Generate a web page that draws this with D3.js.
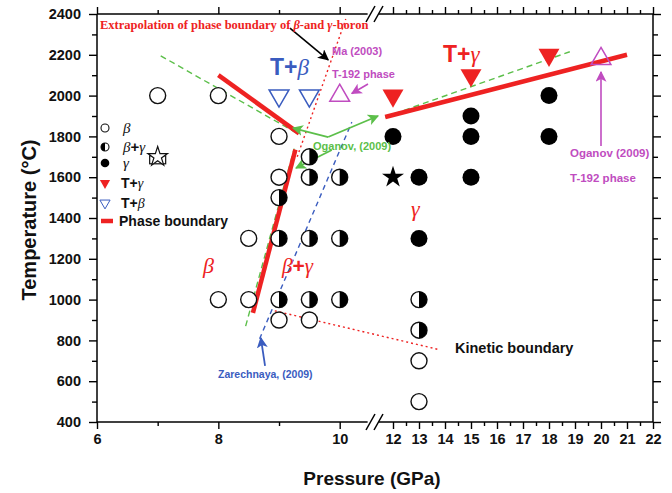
<!DOCTYPE html>
<html><head><meta charset="utf-8">
<script src="https://cdn.jsdelivr.net/npm/d3@7"></script>
<style>body{margin:0;background:#fff}svg{display:block}</style>
</head><body>
<svg id="c" width="672" height="493"></svg>
<script>
// ---------- data ----------
const xMajorLeft = [6, 8, 10];
const xMinorLeft = [7, 9];
const xMajorRight = [12, 13, 14, 15, 16, 17, 18, 19, 20, 21, 22];
const xMinorRight = [12.5, 13.5, 14.5, 15.5, 16.5, 17.5, 18.5, 19.5, 20.5, 21.5];
const yMajor = [400, 600, 800, 1000, 1200, 1400, 1600, 1800, 2000, 2200, 2400];
const yMinor = [500, 700, 900, 1100, 1300, 1500, 1700, 1900, 2100, 2300];

const betaPts = [[7,2000],[8,2000],[9,1800],[9,1600],[8.5,1300],[8,1000],[8.5,1000],[9,900],[9.5,900],[13,700],[13,500]];
const mixPts = [[9,1500],[9.5,1700],[9.5,1600],[10,1600],[9,1300],[9.5,1300],[10,1300],[9,1000],[9.5,1000],[10,1000],[13,1000],[13,850]];
const gammaPts = [[12,1800],[13,1600],[13,1300],[15,1900],[15,1800],[15,1600],[18,2000],[18,1800]];
const starPts = [[12,1600]];
const openStarPts = [[7,1700]];
const tGammaPts = [[12,2000],[15,2100],[18,2200]];
const tBetaPts = [[9,2000],[9.5,2000]];
const t192Pts = [[10,2000],[20,2180]];

const boundaryLines = [
  [[8,2100],[9.33,1815]],
  [[8.57,935],[9.27,1735]],
  [[11.7,1895],[21,2200]]
];
const oganovDashed = [
  [[7.05,2195],[9.33,1810]],
  [[8.45,870],[9.25,1740]],
  [[11.7,1895],[18.8,2215]]
];
const zarechnayaDashed = [[8.68,808],[10.2,1870]];
const extrapolationDotted = [[9.3,1700],[10.1,2375]];
const kineticDotted = [[8.93,945],[13.8,754]];

const greenArrows = [
  [[9.81,1797],[9.23,1841]],
  [[9.81,1797],[11.34,1900]],
  [[9.87,1733],[9.28,1645]]
];
const blackArrow = [[9.18,2331],[9.81,2175]];
const magentaArrows = [
  [[10.53,2057],[10.2,2010]],
  [[20,1753],[20,2116]]
];
const blueArrow = [[8.77,675],[8.70,812]];

// ---------- setup ----------
const svg = d3.select("#c");
const SANS = "'Liberation Sans', Arial, sans-serif";
const SERIF = "'Liberation Serif', 'Times New Roman', serif";
const RED = "#ee2222", GREEN = "#5cbf4a", BLUE = "#3a5cbf", MAG = "#c04cc0";

const x = d3.scaleLinear().domain([6, 10.45, 11.5, 22]).range([97, 367, 380, 653]);
const y = d3.scaleLinear().domain([400, 2400]).range([422, 14]);
const line = d3.line().x(d => x(d[0])).y(d => y(d[1]));

// markers
const defs = svg.append("defs");
function marker(id, color, size) {
  defs.append("marker").attr("id", id).attr("viewBox", "0 0 10 10")
    .attr("refX", 9).attr("refY", 5).attr("markerWidth", size).attr("markerHeight", size)
    .attr("markerUnits", "userSpaceOnUse").attr("orient", "auto")
    .append("path").attr("d", "M0,0 L10,5 L0,10 L2.5,5 Z").attr("fill", color);
}
marker("ah-black", "#000", 11);
marker("ah-green", GREEN, 11);
marker("ah-mag", MAG, 11);
marker("ah-blue", BLUE, 11);

// ---------- axes ----------
const axG = svg.append("g").attr("font-family", SANS);
function styleAxis(g) {
  g.select(".domain").remove();
  g.selectAll("line").attr("stroke", "#000").attr("stroke-width", 1.4);
  g.selectAll("text").attr("font-family", SANS).attr("font-weight", "bold").attr("font-size", 14.5).attr("fill", "#111");
}
axG.append("g").attr("transform", "translate(0,422)")
  .call(d3.axisBottom(x).tickValues(xMajorLeft.concat(xMajorRight)).tickSize(7).tickPadding(5).tickFormat(d3.format("d"))).call(styleAxis);
axG.append("g").attr("transform", "translate(0,422)")
  .call(d3.axisBottom(x).tickValues(xMinorLeft.concat(xMinorRight)).tickSize(4).tickFormat("")).call(styleAxis);
axG.append("g").attr("transform", "translate(0,14)")
  .call(d3.axisTop(x).tickValues(xMajorLeft.concat(xMajorRight)).tickSize(7).tickFormat("")).call(styleAxis);
axG.append("g").attr("transform", "translate(0,14)")
  .call(d3.axisTop(x).tickValues(xMinorLeft.concat(xMinorRight)).tickSize(4).tickFormat("")).call(styleAxis);
axG.append("g").attr("transform", "translate(97,0)")
  .call(d3.axisLeft(y).tickValues(yMajor).tickSize(8).tickPadding(8).tickFormat(d3.format("d"))).call(styleAxis);
axG.append("g").attr("transform", "translate(97,0)")
  .call(d3.axisLeft(y).tickValues(yMinor).tickSize(5).tickFormat("")).call(styleAxis);
axG.append("g").attr("transform", "translate(653,0)")
  .call(d3.axisRight(y).tickValues(yMajor).tickSize(8).tickFormat("")).call(styleAxis);
axG.append("g").attr("transform", "translate(653,0)")
  .call(d3.axisRight(y).tickValues(yMinor).tickSize(5).tickFormat("")).call(styleAxis);

// frame with breaks
const frame = svg.append("g").attr("stroke", "#000").attr("stroke-width", 1.5).attr("fill", "none");
[14, 422].forEach(yy => {
  frame.append("line").attr("x1", 97).attr("x2", x(10.5)).attr("y1", yy).attr("y2", yy);
  frame.append("line").attr("x1", x(11.4)).attr("x2", 653).attr("y1", yy).attr("y2", yy);
  frame.append("line").attr("x1", 366).attr("y1", yy + 8).attr("x2", 375).attr("y2", yy - 8);
  frame.append("line").attr("x1", 374).attr("y1", yy + 8).attr("x2", 383).attr("y2", yy - 8);
});
frame.append("line").attr("x1", 97).attr("x2", 97).attr("y1", 14).attr("y2", 422);
frame.append("line").attr("x1", 653).attr("x2", 653).attr("y1", 14).attr("y2", 422);

// axis titles
svg.append("text").attr("x", 372).attr("y", 485).attr("text-anchor", "middle")
  .attr("font-family", SANS).attr("font-weight", "bold").attr("font-size", 19).attr("fill", "#111").text("Pressure (GPa)");
svg.append("text").attr("transform", "translate(36,220) rotate(-90)").attr("text-anchor", "middle")
  .attr("font-family", SANS).attr("font-weight", "bold").attr("font-size", 20).attr("fill", "#111").text("Temperature (°C)");

// ---------- lines ----------
const lg = svg.append("g").attr("fill", "none");
oganovDashed.forEach(seg => lg.append("path").attr("d", line(seg)).attr("stroke", GREEN).attr("stroke-width", 1.4).attr("stroke-dasharray", "6,4"));
lg.append("path").attr("d", line(zarechnayaDashed)).attr("stroke", BLUE).attr("stroke-width", 1.4).attr("stroke-dasharray", "5,4");
lg.append("path").attr("d", line(extrapolationDotted)).attr("stroke", RED).attr("stroke-width", 1.4).attr("stroke-dasharray", "2,3");
lg.append("path").attr("d", line(kineticDotted)).attr("stroke", RED).attr("stroke-width", 1.4).attr("stroke-dasharray", "2,3");
boundaryLines.forEach(seg => lg.append("path").attr("d", line(seg)).attr("stroke", RED).attr("stroke-width", 4.5).attr("stroke-linecap", "butt"));
greenArrows.forEach(seg => lg.append("path").attr("d", line(seg)).attr("stroke", GREEN).attr("stroke-width", 1.8).attr("marker-end", "url(#ah-green)"));
lg.append("path").attr("d", line(blackArrow)).attr("stroke", "#000").attr("stroke-width", 1.6).attr("marker-end", "url(#ah-black)");
magentaArrows.forEach(seg => lg.append("path").attr("d", line(seg)).attr("stroke", MAG).attr("stroke-width", 1.6).attr("marker-end", "url(#ah-mag)"));
lg.append("path").attr("d", line(blueArrow)).attr("stroke", BLUE).attr("stroke-width", 1.8).attr("marker-end", "url(#ah-blue)");

// ---------- markers ----------
const R = 8;
const mk = svg.append("g");
mk.selectAll(".beta").data(betaPts).join("circle")
  .attr("cx", d => x(d[0])).attr("cy", d => y(d[1])).attr("r", R)
  .attr("fill", "#fff").attr("stroke", "#111").attr("stroke-width", 1.4);
const mixG = mk.selectAll(".mix").data(mixPts).join("g")
  .attr("transform", d => `translate(${x(d[0])},${y(d[1])})`);
mixG.append("circle").attr("r", R).attr("fill", "#fff").attr("stroke", "#111").attr("stroke-width", 1.4);
mixG.append("path").attr("d", `M0,${-R} A${R},${R} 0 0 1 0,${R} Z`).attr("fill", "#000");
mk.selectAll(".gam").data(gammaPts).join("circle")
  .attr("cx", d => x(d[0])).attr("cy", d => y(d[1])).attr("r", R + 0.5).attr("fill", "#000");
mk.selectAll(".star").data(starPts).join("path")
  .attr("transform", d => `translate(${x(d[0])},${y(d[1])})`)
  .attr("d", d3.symbol(d3.symbolStar, 150)).attr("fill", "#000");
const os = mk.selectAll(".ostar").data(openStarPts).join("g")
  .attr("transform", d => `translate(${x(d[0])},${y(d[1])})`);
os.append("rect").attr("x", -8).attr("y", -1).attr("width", 16).attr("height", 8).attr("fill", "#fff").attr("stroke", "#111").attr("stroke-width", 1.2);
os.append("path").attr("d", d3.symbol(d3.symbolStar, 120)).attr("fill", "#fff").attr("stroke", "#111").attr("stroke-width", 1.2);
mk.selectAll(".tg").data(tGammaPts).join("path")
  .attr("transform", d => `translate(${x(d[0])},${y(d[1])}) rotate(180)`)
  .attr("d", d3.symbol(d3.symbolTriangle, 190)).attr("fill", RED);
mk.selectAll(".tb").data(tBetaPts).join("path")
  .attr("transform", d => `translate(${x(d[0])},${y(d[1])}) rotate(180)`)
  .attr("d", d3.symbol(d3.symbolTriangle, 170)).attr("fill", "none").attr("stroke", BLUE).attr("stroke-width", 1.5);
mk.selectAll(".t192").data(t192Pts).join("path")
  .attr("transform", d => `translate(${x(d[0])},${y(d[1])})`)
  .attr("d", d3.symbol(d3.symbolTriangle, 170)).attr("fill", "none").attr("stroke", MAG).attr("stroke-width", 1.5);

// ---------- legend ----------
const leg = svg.append("g").attr("font-family", SANS).attr("font-weight", "bold").attr("font-size", 14).attr("fill", "#111");
const lx = 105;
leg.append("circle").attr("cx", lx).attr("cy", 128).attr("r", 4).attr("fill", "#fff").attr("stroke", "#111").attr("stroke-width", 1.1);
leg.append("circle").attr("cx", lx).attr("cy", 147).attr("r", 4).attr("fill", "#fff").attr("stroke", "#111").attr("stroke-width", 1.1);
leg.append("path").attr("d", `M${lx},143 A4,4 0 0 0 ${lx},151 Z`).attr("fill", "#000");
leg.append("circle").attr("cx", lx).attr("cy", 163).attr("r", 4.3).attr("fill", "#000");
leg.append("path").attr("transform", `translate(${lx},183) rotate(180)`).attr("d", d3.symbol(d3.symbolTriangle, 45)).attr("fill", RED);
leg.append("path").attr("transform", `translate(${lx},203) rotate(180)`).attr("d", d3.symbol(d3.symbolTriangle, 45)).attr("fill", "none").attr("stroke", BLUE).attr("stroke-width", 1);
leg.append("line").attr("x1", 101).attr("x2", 113).attr("y1", 221).attr("y2", 221).attr("stroke", RED).attr("stroke-width", 4.5);
function mixText(g, xx, yy, parts, size, color) {
  const t = g.append("text").attr("x", xx).attr("y", yy).attr("font-size", size).attr("fill", color);
  parts.forEach(p => t.append("tspan").attr("font-family", p[1] ? SERIF : SANS).attr("font-style", p[1] ? "italic" : "normal")
    .attr("font-weight", p[1] ? "normal" : "bold").text(p[0]));
  return t;
}
mixText(leg, 123, 133, [["β", 1]], 15, "#111");
mixText(leg, 123, 152, [["β", 1], ["+", 0], ["γ", 1]], 15, "#111");
mixText(leg, 123, 168, [["γ", 1]], 15, "#111");
mixText(leg, 121, 188, [["T+", 0], ["γ", 1]], 14, "#111");
mixText(leg, 121, 208, [["T+", 0], ["β", 1]], 14, "#111");
leg.append("text").attr("x", 119).attr("y", 226).text("Phase boundary");

// ---------- annotations ----------
const an = svg.append("g");
const ext = an.append("text").attr("x", 100).attr("y", 29).attr("font-family", SERIF).attr("font-weight", "bold").attr("font-size", 12.5).attr("fill", RED);
ext.append("tspan").text("Extrapolation of phase boundary of ");
ext.append("tspan").attr("font-style", "italic").text("β");
ext.append("tspan").text("-and ");
ext.append("tspan").attr("font-style", "italic").text("γ");
ext.append("tspan").text("-boron");

mixText(an, 270, 75, [["T+", 0], ["β", 1]], 23, BLUE);
mixText(an, 443, 62, [["T+", 0], ["γ", 1]], 23, RED);
mixText(an, 411, 216, [["γ", 1]], 22, RED);
mixText(an, 203, 273, [["β", 1]], 22, RED);
mixText(an, 282, 273, [["β", 1], ["+", 0], ["γ", 1]], 21, RED);

const small = (xx, yy, txt, color, size) => an.append("text").attr("x", xx).attr("y", yy)
  .attr("font-family", SANS).attr("font-weight", "bold").attr("font-size", size).attr("fill", color).text(txt);
small(332, 55, "Ma (2003)", MAG, 11);
small(332, 78, "T-192 phase", MAG, 11);
small(313, 150, "Oganov,  (2009)", GREEN, 11);
small(218, 378, "Zarechnaya, (2009)", BLUE, 10.5);
small(455, 353, "Kinetic boundary", "#111", 14.5);
small(570, 157, "Oganov (2009)", MAG, 11.5);
small(570, 182, "T-192 phase", MAG, 11.5);
</script>
</body></html>
